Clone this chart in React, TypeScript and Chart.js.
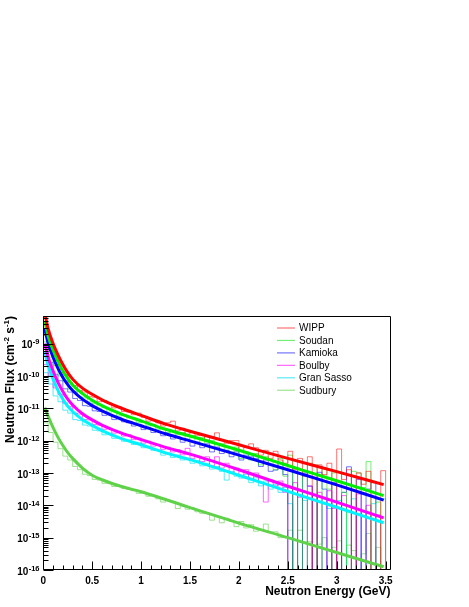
import React, { useEffect, useRef } from "react";
import { Chart, registerables } from "chart.js";

Chart.register(...registerables);

// ---------- data ----------
const seriesNames = ["WIPP", "Soudan", "Kamioka", "Boulby", "Gran Sasso", "Sudbury"];
const fitColors = ["#ff0000", "#00ee00", "#0000ff", "#ff00ff", "#00f4ff", "#5fd24a"];
const histColors = [
  "rgba(255,0,0,0.55)",
  "rgba(0,225,0,0.55)",
  "rgba(0,0,255,0.55)",
  "rgba(255,0,255,0.6)",
  "rgba(0,225,240,0.65)",
  "rgba(95,205,74,0.6)",
];

// histogram: 71 bins of 0.05 GeV starting at 0 GeV; values are log10(flux), null = empty bin
const binWidth = 0.05;
const wippHist = [
  -8.1, -8.75, -9.2, -9.48, -9.8, -9.97, -10.2, -10.3, -10.45, -10.5,
  -10.63, -10.66, -10.8, -10.76, -10.84, -10.99, -10.95, -11.1, -11.12, -11.2,
  -11.15, -11.28, -11.4, -11.38, -11.45, -11.55, -11.45, -11.4, -11.7, -11.62,
  -11.8, -11.72, -11.85, -11.83, -11.98, -11.88, -11.76, -11.98, -12.08, -12.0,
  -12.0, -12.3, -12.2, -12.1, -12.22, -12.45, -12.3, -12.55, -12.33, -12.6,
  -12.7, -12.33, -12.9, -12.55, -13.1, -12.5, null, -12.75, -13.05, -12.7,
  null, -12.26, -13.2, -12.9, null, -13.0, -13.35, -12.95, null, null, -12.93,
];
const soudanHist = [
  -8.4, -8.95, -9.42, -9.68, -10.0, -10.15, -10.4, -10.48, -10.65, -10.68,
  -10.8, -10.86, -11.0, -10.98, -11.12, -11.1, -11.24, -11.2, -11.3, -11.33,
  -11.45, -11.44, -11.55, -11.5, -11.65, -11.62, -11.75, -11.7, -11.82, -11.75,
  -11.95, -11.85, -12.05, -11.9, -12.15, -12.0, -12.25, -12.1, -12.3, -12.35,
  -12.2, -12.55, -12.35, -12.6, -12.4, -12.75, -12.5, -12.6, -12.9, -12.55,
  -13.1, -12.45, null, -12.9, null, -12.7, -12.75, null, -12.85, -13.5,
  -13.0, -12.98, -13.6, null, -12.95, -13.0, -13.45, -12.65, null, -13.9, null,
];
const kamiokaHist = [
  -8.7, -9.25, -9.58, -9.95, -10.15, -10.4, -10.5, -10.7, -10.76, -10.92,
  -10.94, -11.08, -11.1, -11.22, -11.2, -11.35, -11.3, -11.42, -11.45, -11.55,
  -11.5, -11.66, -11.6, -11.75, -11.72, -11.85, -11.8, -11.95, -11.88, -12.05,
  -11.97, -12.17, -12.05, -12.22, -12.1, -12.35, -12.2, -12.4, -12.3, -12.5,
  -12.35, -12.6, -12.45, -12.5, -12.55, -12.8, -12.6, -12.95, -12.91, -12.7,
  -13.05, null, -12.85, null, -13.0, -13.41, null, -12.98, -13.5, null,
  -13.3, null, -13.6, -12.81, null, -13.2, null, -13.5, -13.3, null, null,
];
const boulbyHist = [
  -9.1, -9.65, -10.0, -10.37, -10.58, -10.84, -10.95, -11.15, -11.18, -11.35,
  -11.36, -11.5, -11.52, -11.65, -11.62, -11.77, -11.74, -11.86, -11.82, -11.97,
  -11.92, -12.08, -12.02, -12.17, -12.15, -12.27, -12.2, -12.35, -12.28, -12.44,
  -12.24, -12.55, -12.48, -12.65, -12.5, -12.78, -12.5, -12.85, -12.7, -13.0,
  -12.85, -13.1, -12.9, -13.2, -13.0, -13.3, -13.9, -13.22, -13.4, -13.25,
  -13.6, null, -13.3, -13.75, null, -13.4, null, -13.6, null, -13.55,
  -14.1, null, -13.7, -14.2, null, -13.65, null, -14.0, null, -14.3, null,
];
const granSassoHist = [
  -9.35, -9.9, -10.25, -10.62, -10.8, -11.06, -11.15, -11.35, -11.38, -11.52,
  -11.55, -11.68, -11.7, -11.82, -11.78, -11.93, -11.92, -12.02, -11.98, -12.12,
  -12.08, -12.22, -12.2, -12.3, -12.3, -12.45, -12.38, -12.52, -12.45, -12.6,
  -12.55, -12.7, -12.62, -12.78, -12.7, -12.88, -12.8, -12.95, -13.22, -12.95,
  -13.1, -13.16, -13.05, -13.3, -13.15, -13.4, -13.25, -13.5, -13.35, -13.6,
  -13.45, -13.95, null, -13.55, -13.85, null, -13.7, null, -13.8, -14.1,
  null, -13.85, null, -14.0, -13.8, null, -14.2, null, -13.95, -13.8, -13.8,
];
const sudburyHist = [
  -11.0, -11.45, -11.75, -12.05, -12.25, -12.48, -12.6, -12.8, -12.9, -13.04,
  -13.08, -13.2, -13.22, -13.32, -13.33, -13.42, -13.4, -13.48, -13.5, -13.55,
  -13.63, -13.62, -13.72, -13.7, -13.8, -13.9, -13.85, -13.89, -14.1, -14.02,
  -14.12, -14.08, -14.2, -14.25, -14.25, -14.46, -14.35, -14.54, -14.4, -14.5,
  -14.66, -14.5, -14.7, -14.6, -14.8, -14.75, -14.58, -14.82, -14.82, -15.0,
  -14.97, -14.77, null, -14.77, -15.13, -15.13, null, -15.2, -15.0, null,
  -15.3, -15.1, null, -15.23, -15.4, null, -15.5, -14.87, null, -15.3, null,
];

// fit curves: energies (GeV) and log10(flux)
const fitEnergy = [0.015, 0.05, 0.1, 0.15, 0.2, 0.25, 0.3, 0.4, 0.5, 0.6, 0.8, 1.0, 1.25, 1.5, 2.0, 2.5, 3.0, 3.48];
const wippFit = [-8.05, -8.55, -9.0, -9.35, -9.65, -9.9, -10.1, -10.38, -10.57, -10.74, -11.0, -11.22, -11.49, -11.71, -12.13, -12.55, -12.96, -13.36];
const soudanFit = [-8.3, -8.78, -9.2, -9.55, -9.85, -10.08, -10.28, -10.55, -10.75, -10.92, -11.18, -11.39, -11.65, -11.86, -12.3, -12.77, -13.24, -13.7];
const kamiokaFit = [-8.55, -9.0, -9.42, -9.77, -10.05, -10.27, -10.45, -10.72, -10.92, -11.08, -11.34, -11.54, -11.79, -12.01, -12.45, -12.9, -13.37, -13.84];
const boulbyFit = [-9.0, -9.42, -9.85, -10.2, -10.48, -10.72, -10.9, -11.17, -11.36, -11.52, -11.77, -11.97, -12.21, -12.42, -12.9, -13.41, -13.9, -14.39];
const granSassoFit = [-9.25, -9.68, -10.1, -10.45, -10.72, -10.94, -11.1, -11.35, -11.53, -11.69, -11.94, -12.13, -12.38, -12.59, -13.07, -13.57, -14.06, -14.54];
const sudburyFit = [-10.98, -11.25, -11.6, -11.9, -12.15, -12.37, -12.55, -12.85, -13.07, -13.21, -13.42, -13.58, -13.82, -14.07, -14.55, -15.0, -15.46, -15.9];

const histSeries = [wippHist, soudanHist, kamiokaHist, boulbyHist, granSassoHist, sudburyHist];
const fitSeries = [wippFit, soudanFit, kamiokaFit, boulbyFit, granSassoFit, sudburyFit];

// axis ticks / titles
const xMin = 0;
const xMax = 3.55;
const yMin = 1e-16;
const yMax = 7.1e-9;
const xTickValues = [0, 0.5, 1, 1.5, 2, 2.5, 3, 3.5];
const xTickLabels = ["0", "0.5", "1", "1.5", "2", "2.5", "3", "3.5"];
const yTickExponents = [-16, -15, -14, -13, -12, -11, -10, -9];
const xTitle = "Neutron Energy (GeV)";
const yTitleParts = [
  { t: "Neutron Flux (cm", sup: false },
  { t: "-2", sup: true },
  { t: " s", sup: false },
  { t: "-1", sup: true },
  { t: ")", sup: false },
];

const EMPTY = 1e-20;
const toFlux = (e: number | null) => (e === null ? EMPTY : Math.pow(10, e));

function histPoints(logs: (number | null)[]) {
  const pts = logs.map((e, i) => ({ x: xMin + i * binWidth, y: toFlux(e) }));
  pts.push({ x: xMin + logs.length * binWidth, y: EMPTY });
  return pts;
}
function fitPoints(logs: number[]) {
  return logs.map((e, i) => ({ x: fitEnergy[i], y: toFlux(e) }));
}

const FONT = '"Liberation Sans", Arial, Helvetica, sans-serif';

const rootPlugin = {
  id: "rootAxes",
  afterDraw(chart: any) {
    const { ctx, chartArea: a, scales } = chart;
    const xs = scales.x;
    const ys = scales.y;
    ctx.save();
    const L = Math.round(a.left) + 0.5;
    const R = Math.round(a.right) - 0.5;
    const T = Math.round(a.top) + 0.5;
    const B = Math.round(a.bottom) - 0.5;

    // frame
    ctx.strokeStyle = "#000";
    ctx.lineWidth = 1;
    ctx.beginPath();
    ctx.moveTo(L, T);
    ctx.lineTo(R, T);
    ctx.lineTo(R, B);
    ctx.lineTo(L, B);
    ctx.closePath();
    ctx.stroke();

    // x ticks (inward)
    ctx.beginPath();
    for (let k = 0; k <= 35; k++) {
      const v = k / 10;
      const px = Math.round(xs.getPixelForValue(v)) + 0.5;
      const len = k % 5 === 0 ? 8 : 4;
      ctx.moveTo(px, B);
      ctx.lineTo(px, B - len);
    }
    // y ticks (inward)
    for (let d = -16; d <= -9; d++) {
      for (let m = 1; m <= 9; m++) {
        const v = m * Math.pow(10, d);
        if (v < yMin * 0.999 || v > yMax) continue;
        const py = Math.round(ys.getPixelForValue(v)) + 0.5;
        const len = m === 1 ? 10 : 5;
        ctx.moveTo(L, py);
        ctx.lineTo(L + len, py);
      }
    }
    ctx.stroke();

    // x tick labels
    ctx.fillStyle = "#000";
    ctx.font = `bold 10px ${FONT}`;
    ctx.textAlign = "center";
    ctx.textBaseline = "alphabetic";
    xTickValues.forEach((v, i) => {
      ctx.fillText(xTickLabels[i], xs.getPixelForValue(v), 583.5);
    });

    // y tick labels 10^n
    yTickExponents.forEach((e) => {
      const py = ys.getPixelForValue(Math.pow(10, e));
      const expText = String(e);
      ctx.font = `bold 7.5px ${FONT}`;
      ctx.textAlign = "right";
      const rightX = a.left - 3.8;
      ctx.fillText(expText, rightX, py + 0.8);
      const ew = ctx.measureText(expText).width;
      ctx.font = `bold 10px ${FONT}`;
      ctx.fillText("10", rightX - ew - 0.3, py + 4.7);
    });

    // x title
    ctx.font = `bold 12px ${FONT}`;
    ctx.textAlign = "right";
    ctx.fillText(xTitle, a.right, 594.5);

    // y title (rotated, ends at top of frame)
    let total = 0;
    yTitleParts.forEach((p) => {
      ctx.font = p.sup ? `bold 8px ${FONT}` : `bold 12px ${FONT}`;
      total += ctx.measureText(p.t).width;
    });
    ctx.save();
    ctx.translate(13.5, a.top + total);
    ctx.rotate(-Math.PI / 2);
    ctx.textAlign = "left";
    let cx = 0;
    yTitleParts.forEach((p) => {
      ctx.font = p.sup ? `bold 8px ${FONT}` : `bold 12px ${FONT}`;
      ctx.fillText(p.t, cx, p.sup ? -4.5 : 0);
      cx += ctx.measureText(p.t).width;
    });
    ctx.restore();

    // legend
    ctx.font = `10px ${FONT}`;
    ctx.textAlign = "left";
    ctx.textBaseline = "middle";
    seriesNames.forEach((name, i) => {
      const y = 328 + i * 12.45;
      ctx.strokeStyle = histColors[i];
      ctx.lineWidth = 1.2;
      ctx.beginPath();
      ctx.moveTo(277, y);
      ctx.lineTo(295, y);
      ctx.stroke();
      ctx.fillStyle = "#000";
      ctx.fillText(name, 299, y + 0.5);
    });

    ctx.restore();
  },
};

export default function App() {
  const ref = useRef<HTMLCanvasElement | null>(null);

  useEffect(() => {
    if (!ref.current) return;
    const datasets: any[] = [];
    histSeries.forEach((h, i) => {
      datasets.push({
        label: seriesNames[i] + " histogram",
        data: histPoints(h),
        borderColor: histColors[i],
        backgroundColor: histColors[i],
        borderWidth: 1,
        stepped: "after",
        pointRadius: 0,
        fill: false,
        order: 1,
      });
    });
    fitSeries.forEach((f, i) => {
      datasets.push({
        label: seriesNames[i] + " fit",
        data: fitPoints(f),
        borderColor: fitColors[i],
        backgroundColor: fitColors[i],
        borderWidth: 3,
        cubicInterpolationMode: "monotone",
        pointRadius: 0,
        fill: false,
        order: 0,
      });
    });

    const chart = new Chart(ref.current, {
      type: "line",
      data: { datasets },
      options: {
        animation: false,
        responsive: false,
        events: [],
        layout: { padding: { left: 0, top: 316, right: 78.5, bottom: 0 } },
        plugins: {
          legend: { display: false },
          tooltip: { enabled: false },
          title: { display: false },
        },
        scales: {
          x: {
            type: "linear",
            min: xMin,
            max: xMax,
            grid: { display: false },
            border: { display: false },
            ticks: { display: false },
            afterFit: (s: any) => {
              s.height = 37;
            },
          },
          y: {
            type: "logarithmic",
            min: yMin,
            max: yMax,
            grid: { display: false },
            border: { display: false },
            ticks: { display: false },
            afterFit: (s: any) => {
              s.width = 43.3;
            },
          },
        },
      } as any,
      plugins: [rootPlugin],
    });
    return () => chart.destroy();
  }, []);

  return (
    <div style={{ position: "absolute", left: 0, top: 0, width: 469, height: 607, background: "#fff" }}>
      <canvas ref={ref} width={469} height={607} style={{ display: "block" }} />
    </div>
  );
}
